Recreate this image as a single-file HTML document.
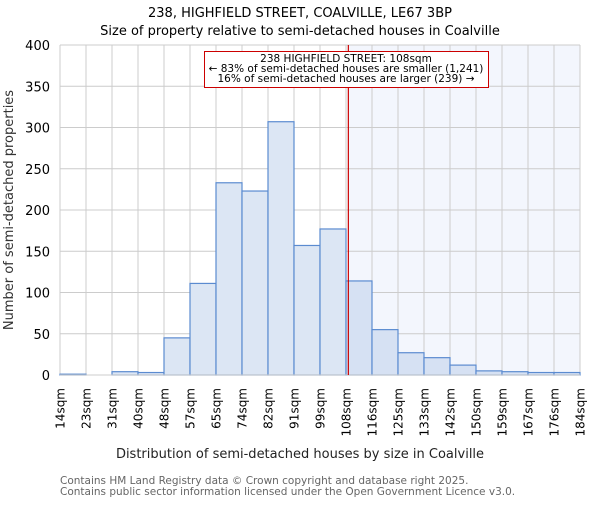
<!DOCTYPE html>
<html><head><meta charset="utf-8"><style>
body{margin:0;background:#fff;}
svg text{font-family:"DejaVu Sans","Liberation Sans",sans-serif;}
</style></head><body>
<svg id="chart" width="600" height="500" xmlns="http://www.w3.org/2000/svg">
<text x="300" y="17" text-anchor="middle" font-size="13">238, HIGHFIELD STREET, COALVILLE, LE67 3BP</text>
<text x="300" y="35" text-anchor="middle" font-size="13">Size of property relative to semi-detached houses in Coalville</text>
<g id="plot"></g>
<text x="18" y="215" text-anchor="middle" font-size="13" fill="#333" transform="rotate(-90 13 215)">Number of semi-detached properties</text>
<text x="300" y="458" text-anchor="middle" font-size="13" fill="#222">Distribution of semi-detached houses by size in Coalville</text>
<text x="60" y="484" font-size="10.5" fill="#666">Contains HM Land Registry data © Crown copyright and database right 2025.</text>
<text x="60" y="495" font-size="10.5" fill="#666">Contains public sector information licensed under the Open Government Licence v3.0.</text>
</svg>
<script>
const binLabels=["14sqm","23sqm","31sqm","40sqm","48sqm","57sqm","65sqm","74sqm","82sqm","91sqm","99sqm","108sqm","116sqm","125sqm","133sqm","142sqm","150sqm","159sqm","167sqm","176sqm","184sqm"];
const counts=[1,0,4,3,45,111,233,223,307,157,177,114,55,27,21,12,5,4,3,3];
const yTicks=[0,50,100,150,200,250,300,350,400];
const markerBin=11.09;
const NS="http://www.w3.org/2000/svg";
const X0=60,X1=580,Y0=375,Y1=45,YMAX=400;
const nb=counts.length;
const bw=(X1-X0)/nb;
const xs=i=>X0+i*bw;
const ys=v=>Y0-(v/YMAX)*(Y0-Y1);
const g=document.getElementById('plot');
function mk(t,a){const e=document.createElementNS(NS,t);for(const k in a)e.setAttribute(k,a[k]);g.appendChild(e);return e;}
const mx=xs(markerBin);
let sh=mk('rect',{x:mx,y:Y1,width:X1-mx,height:Y0-Y1,fill:'#f3f6fd'});


yTicks.forEach(t=>{
  let l=mk('line',{x1:X0,x2:X1,y1:ys(t),y2:ys(t),stroke:'#cccccc','stroke-width':1});
  
  
  let tx=mk('text',{x:X0-10,y:ys(t)+5,'text-anchor':'end','font-size':13});
  tx.textContent=t;
  
  
});
binLabels.forEach((b,i)=>{
  let l=mk('line',{x1:xs(i),x2:xs(i),y1:Y1,y2:Y0,stroke:'#cccccc','stroke-width':1});
  
  
  let tx=mk('text',{x:0,y:0,'text-anchor':'end','font-size':12,transform:`translate(${xs(i)+4.5},388) rotate(-90)`});
  tx.textContent=b;
  
  
});
counts.forEach((c,i)=>{
  if(c<=0)return;
  let r=mk('rect',{x:xs(i),y:ys(c),width:bw,height:Y0-ys(c),fill:i>=11?'#d6e1f3':'#dce6f4',stroke:'#5b8bd0','stroke-width':1.2});
  
  
});
let ax=mk('line',{x1:X0,x2:X1,y1:Y0,y2:Y0,stroke:'#cccccc'});


let ml=mk('line',{x1:mx,x2:mx,y1:Y1,y2:Y0,stroke:'#cc0000','stroke-width':1.2});


let box=mk('rect',{x:204.5,y:51.5,width:284,height:36,fill:'#fff',stroke:'#cc0000','stroke-width':1});


["238 HIGHFIELD STREET: 108sqm","← 83% of semi-detached houses are smaller (1,241)","16% of semi-detached houses are larger (239) →"].forEach((s,k)=>{
  let t=mk('text',{x:346,y:62+k*10,'text-anchor':'middle','font-size':10.5});
  t.textContent=s;
  
  
});
</script>
</body></html>
